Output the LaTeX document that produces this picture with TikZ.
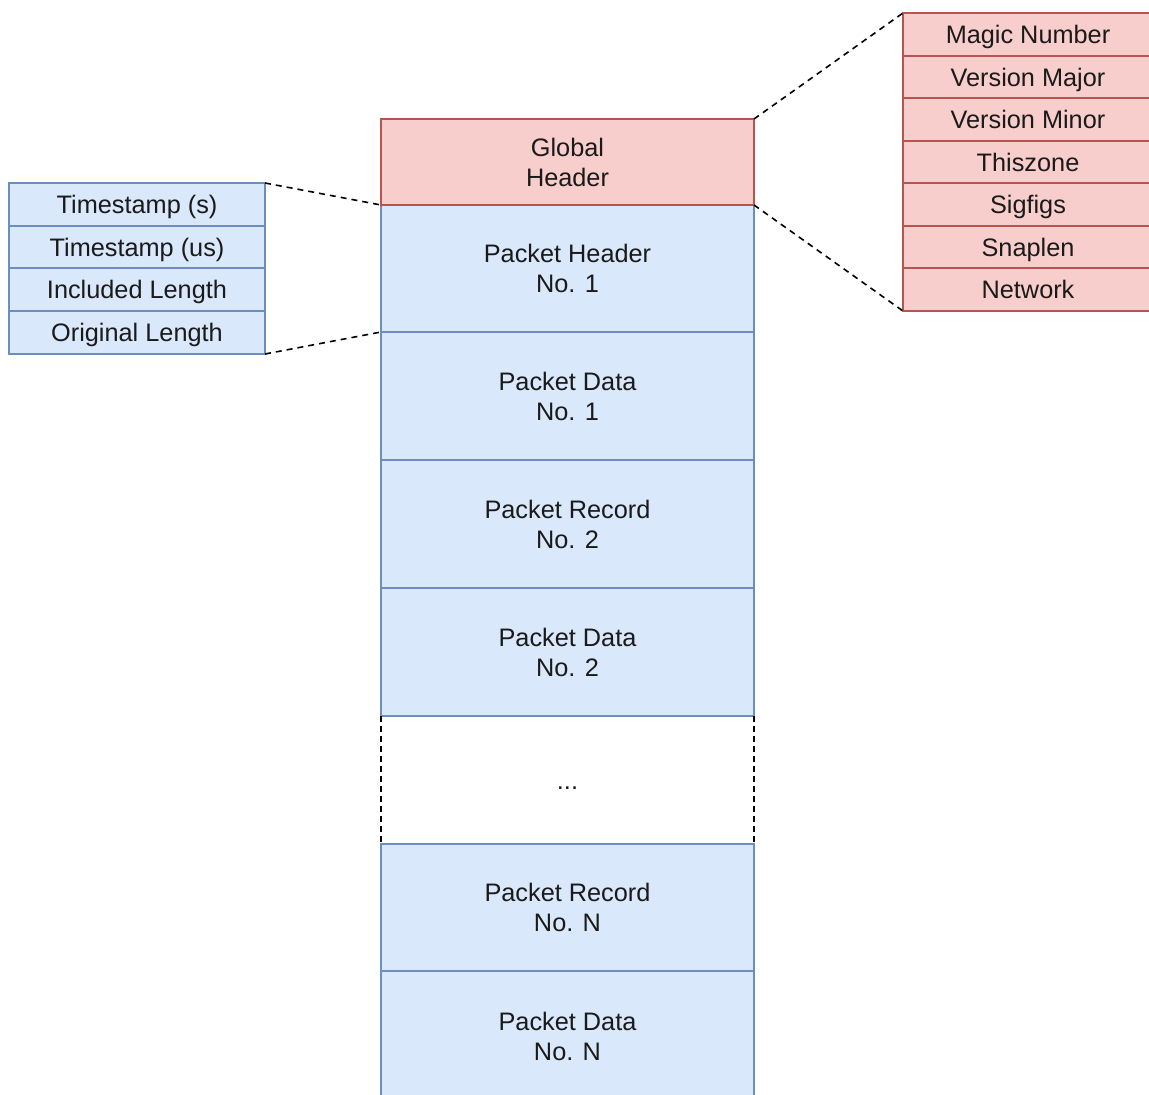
\documentclass[tikz,border=0pt]{standalone}
\usepackage{fontspec}
\setmainfont{Liberation Sans}
\definecolor{bluefill}{HTML}{DAE8FC}
\definecolor{bluedraw}{HTML}{6C8EBF}
\definecolor{redfill}{HTML}{F8CECC}
\definecolor{reddraw}{HTML}{B85450}
\definecolor{ink}{HTML}{1A1A1A}
\begin{document}
\begin{tikzpicture}[x=1pt,y=-1pt,
  cell/.style={rectangle, inner sep=0pt, outer sep=0pt, anchor=north west,
    line width=2pt, align=center, text=ink,
    font=\fontsize{25.3}{30}\selectfont},
  bluecell/.style={cell, fill=bluefill, draw=bluedraw},
  redcell/.style={cell, fill=redfill, draw=reddraw},
  rowtext/.style={text height=18pt, text depth=0pt},
  zoomline/.style={draw=black, line width=1.6pt, dash pattern=on 6pt off 5pt},
  gapside/.style={draw=black, line width=2pt, dash pattern=on 6pt off 4pt}]
\useasboundingbox (0,0) rectangle (1149,1095);
\fill[white] (0,0) rectangle (1149,1095);
\clip (0,0) rectangle (1149,1095);

% main file column
\node[bluecell, minimum width=373pt, minimum height=127pt] (ph1) at (381,205) {Packet Header\\No. 1};
\node[bluecell, minimum width=373pt, minimum height=128pt] (pd1) at (381,332) {Packet Data\\No. 1};
\node[bluecell, minimum width=373pt, minimum height=128pt] (pr2) at (381,460) {Packet Record\\No. 2};
\node[bluecell, minimum width=373pt, minimum height=128pt] (pd2) at (381,588) {Packet Data\\No. 2};
\node[cell, rowtext, minimum width=373pt, minimum height=128pt] (gap) at (381,716) {...};
\node[bluecell, minimum width=373pt, minimum height=127pt] (prN) at (381,844) {Packet Record\\No. N};
\node[bluecell, minimum width=373pt, minimum height=130pt] (pdN) at (381,971) {Packet Data\\No. N};
\node[redcell, minimum width=373pt, minimum height=86pt] (g) at (381,119) {Global\\Header};
\draw[gapside] (gap.north west) -- (gap.south west);
\draw[gapside] (gap.north east) -- (gap.south east);

% packet header fields
\node[bluecell, rowtext, minimum width=256pt, minimum height=43pt] (ts) at (9,183) {Timestamp (s)};
\node[bluecell, rowtext, minimum width=256pt, minimum height=42pt] (tus) at (9,226) {Timestamp (us)};
\node[bluecell, rowtext, minimum width=256pt, minimum height=43pt] (incl) at (9,268) {Included Length};
\node[bluecell, rowtext, minimum width=256pt, minimum height=43pt] (orig) at (9,311) {Original Length};

% global header fields
\node[redcell, rowtext, minimum width=250pt, minimum height=43pt] (magic) at (903,13) {Magic Number};
\node[redcell, rowtext, minimum width=250pt, minimum height=42pt] (vmaj) at (903,56) {Version Major};
\node[redcell, rowtext, minimum width=250pt, minimum height=43pt] (vmin) at (903,98) {Version Minor};
\node[redcell, rowtext, minimum width=250pt, minimum height=42pt] (tz) at (903,141) {Thiszone};
\node[redcell, rowtext, minimum width=250pt, minimum height=43pt] (sig) at (903,183) {Sigfigs};
\node[redcell, rowtext, minimum width=250pt, minimum height=42pt] (snap) at (903,226) {Snaplen};
\node[redcell, rowtext, minimum width=250pt, minimum height=43pt] (net) at (903,268) {Network};

% expansion lines
\draw[zoomline] (ts.north east) -- (ph1.north west);
\draw[zoomline] (orig.south east) -- (ph1.south west);
\draw[zoomline] (g.north east) -- (magic.north west);
\draw[zoomline] (g.south east) -- (net.south west);
\end{tikzpicture}
\end{document}
